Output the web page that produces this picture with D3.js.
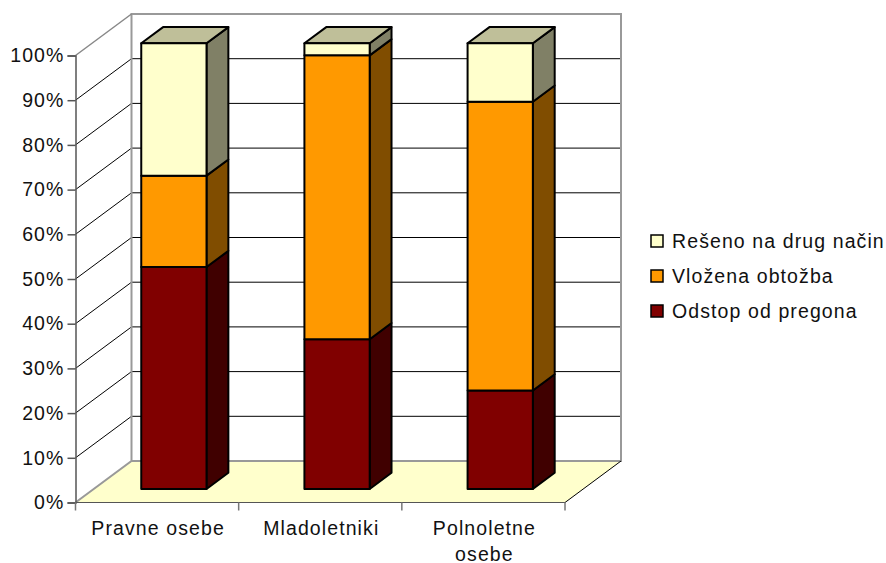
<!DOCTYPE html>
<html>
<head>
<meta charset="utf-8">
<script src="https://cdn.jsdelivr.net/npm/d3@7"></script>
<style>
body { margin: 0; background: #fff; }
text { font-family: "Liberation Sans", Arial, sans-serif; font-size: 19.5px; letter-spacing: 1.1px; fill: #111; }
</style>
</head>
<body>
<svg width="886" height="563"></svg>
<script>
var categories = ["Pravne osebe", "Mladoletniki", "Polnoletne osebe"];
var seriesNames = ["Odstop od pregona", "Vložena obtožba", "Rešeno na drug način"];
var odstop = [49.8, 33.6, 22.1];
var vlozena = [20.5, 63.7, 64.8];
var reseno = [29.7, 2.7, 13.1];
var yTicks = [0, 10, 20, 30, 40, 50, 60, 70, 80, 90, 100];

var colors = ["#800000", "#FF9900", "#FFFFCC"];
var sideColors = ["#400000", "#804D00", "#808066"];
var topColors = ["#600000", "#BF7300", "#BFBF99"];

var svg = d3.select("svg");

var y = d3.scaleLinear().domain([0, 100]).range([502.5, 55.5]);
var barY = d3.scaleLinear().domain([0, 100]).range([489, 43.3]);   // front face of the bars
var x = d3.scaleBand().domain(categories).range([75.5, 565]).paddingInner(0.6).paddingOuter(0.3);

// depth: 0 = front plane, 1 = back wall
var depth = d3.scaleLinear().domain([0, 1]).range([0, 56]);
var rise = d3.scaleLinear().domain([0, 1]).range([0, -41.5]);

function pt(xv, yv, z) {
    return [xv + depth(z), y(yv) + rise(z)];
}
var line = d3.line();

var x0 = x.range()[0], x1 = x.range()[1];

// floor
svg.append("path")
    .attr("d", line([pt(x0, 0, 0), pt(x1, 0, 0), pt(x1, 0, 1), pt(x0, 0, 1)]) + "Z")
    .attr("fill", "#FFFFCC");

// grid lines on the side and back wall
yTicks.slice(1, -1).forEach(function (t) {
    svg.append("path")
        .attr("d", line([pt(x0, t, 0), pt(x0, t, 1), pt(x1, t, 1)]))
        .attr("fill", "none")
        .attr("stroke", "#000")
        .attr("stroke-width", 1);
});

// wall outline
svg.append("path")
    .attr("d", line([pt(x0, 0, 0), pt(x0, 0, 1), pt(x1, 0, 1), pt(x1, 100, 1), pt(x0, 100, 1), pt(x0, 0, 1)]))
    .attr("fill", "none")
    .attr("stroke", "#999")
    .attr("stroke-width", 2);
svg.append("path")
    .attr("d", line([pt(x0, 100, 0), pt(x0, 100, 1)]))
    .attr("stroke", "#888")
    .attr("stroke-width", 1.5);
svg.append("path")
    .attr("d", line([pt(x0, 0, 0), pt(x1, 0, 0), pt(x1, 0, 1)]))
    .attr("fill", "none")
    .attr("stroke", "#000")
    .attr("stroke-width", 1);

// axes
var yAxis = d3.axisLeft(y).tickValues(yTicks).tickSize(8).tickPadding(3).tickFormat(function (d) { return d + "%"; });
var gy = svg.append("g").attr("transform", "translate(" + x0 + ",0)").call(yAxis);
gy.selectAll("path, line").attr("stroke", "#555").attr("stroke-width", 1.5);
gy.attr("font-size", null).attr("font-family", null);

svg.append("path")
    .attr("d", line([[x0, y(0)], [x1, y(0)]]))
    .attr("stroke", "#555").attr("stroke-width", 1);
d3.range(4).forEach(function (i) {
    var tx = x0 + i * x.step();
    svg.append("path")
        .attr("d", line([[tx, y(0)], [tx, y(0) + 8]]))
        .attr("stroke", "#777").attr("stroke-width", 1.5);
});

// category labels, wrapped like the original
categories.forEach(function (c, i) {
    var words = i === 2 ? ["Polnoletne", "osebe"] : [c];
    words.forEach(function (w, j) {
        svg.append("text")
            .attr("x", x(c) + x.bandwidth() / 2 + 1)
            .attr("y", 535 + j * 26)
            .attr("text-anchor", "middle")
            .text(w);
    });
});

// stacked bars
var zFront = 0.3, zBack = 0.69;
function barPt(xv, v, z) {
    return [xv + depth(z), barY(v) + rise(z - zFront)];
}
var series = [odstop, vlozena, reseno];
categories.forEach(function (c, i) {
    var bx0 = x(c), bx1 = bx0 + x.bandwidth();
    var base = 0;
    series.forEach(function (vals, s) {
        var top = base + vals[i];
        var g = svg.append("g").attr("stroke", "#000").attr("stroke-width", 2).attr("stroke-linejoin", "round");
        g.append("path")
            .attr("d", line([barPt(bx1, base, zFront), barPt(bx1, base, zBack), barPt(bx1, top, zBack), barPt(bx1, top, zFront)]) + "Z")
            .attr("fill", sideColors[s]);
        if (s === series.length - 1) {
            g.append("path")
                .attr("d", line([barPt(bx0, top, zFront), barPt(bx1, top, zFront), barPt(bx1, top, zBack), barPt(bx0, top, zBack)]) + "Z")
                .attr("fill", topColors[s]);
        }
        g.append("path")
            .attr("d", line([barPt(bx0, base, zFront), barPt(bx1, base, zFront), barPt(bx1, top, zFront), barPt(bx0, top, zFront)]) + "Z")
            .attr("fill", colors[s]);
        base = top;
    });
});

// legend
var legendY = d3.scalePoint().domain(seriesNames.slice().reverse()).range([241, 311]);
seriesNames.slice().reverse().forEach(function (n) {
    var s = seriesNames.indexOf(n);
    svg.append("rect")
        .attr("x", 651).attr("y", legendY(n) - 6)
        .attr("width", 12).attr("height", 12)
        .attr("fill", colors[s]).attr("stroke", "#000").attr("stroke-width", 1.5);
    svg.append("text")
        .attr("x", 672).attr("y", legendY(n) + 6.5)
        .text(n);
});
</script>
</body>
</html>
